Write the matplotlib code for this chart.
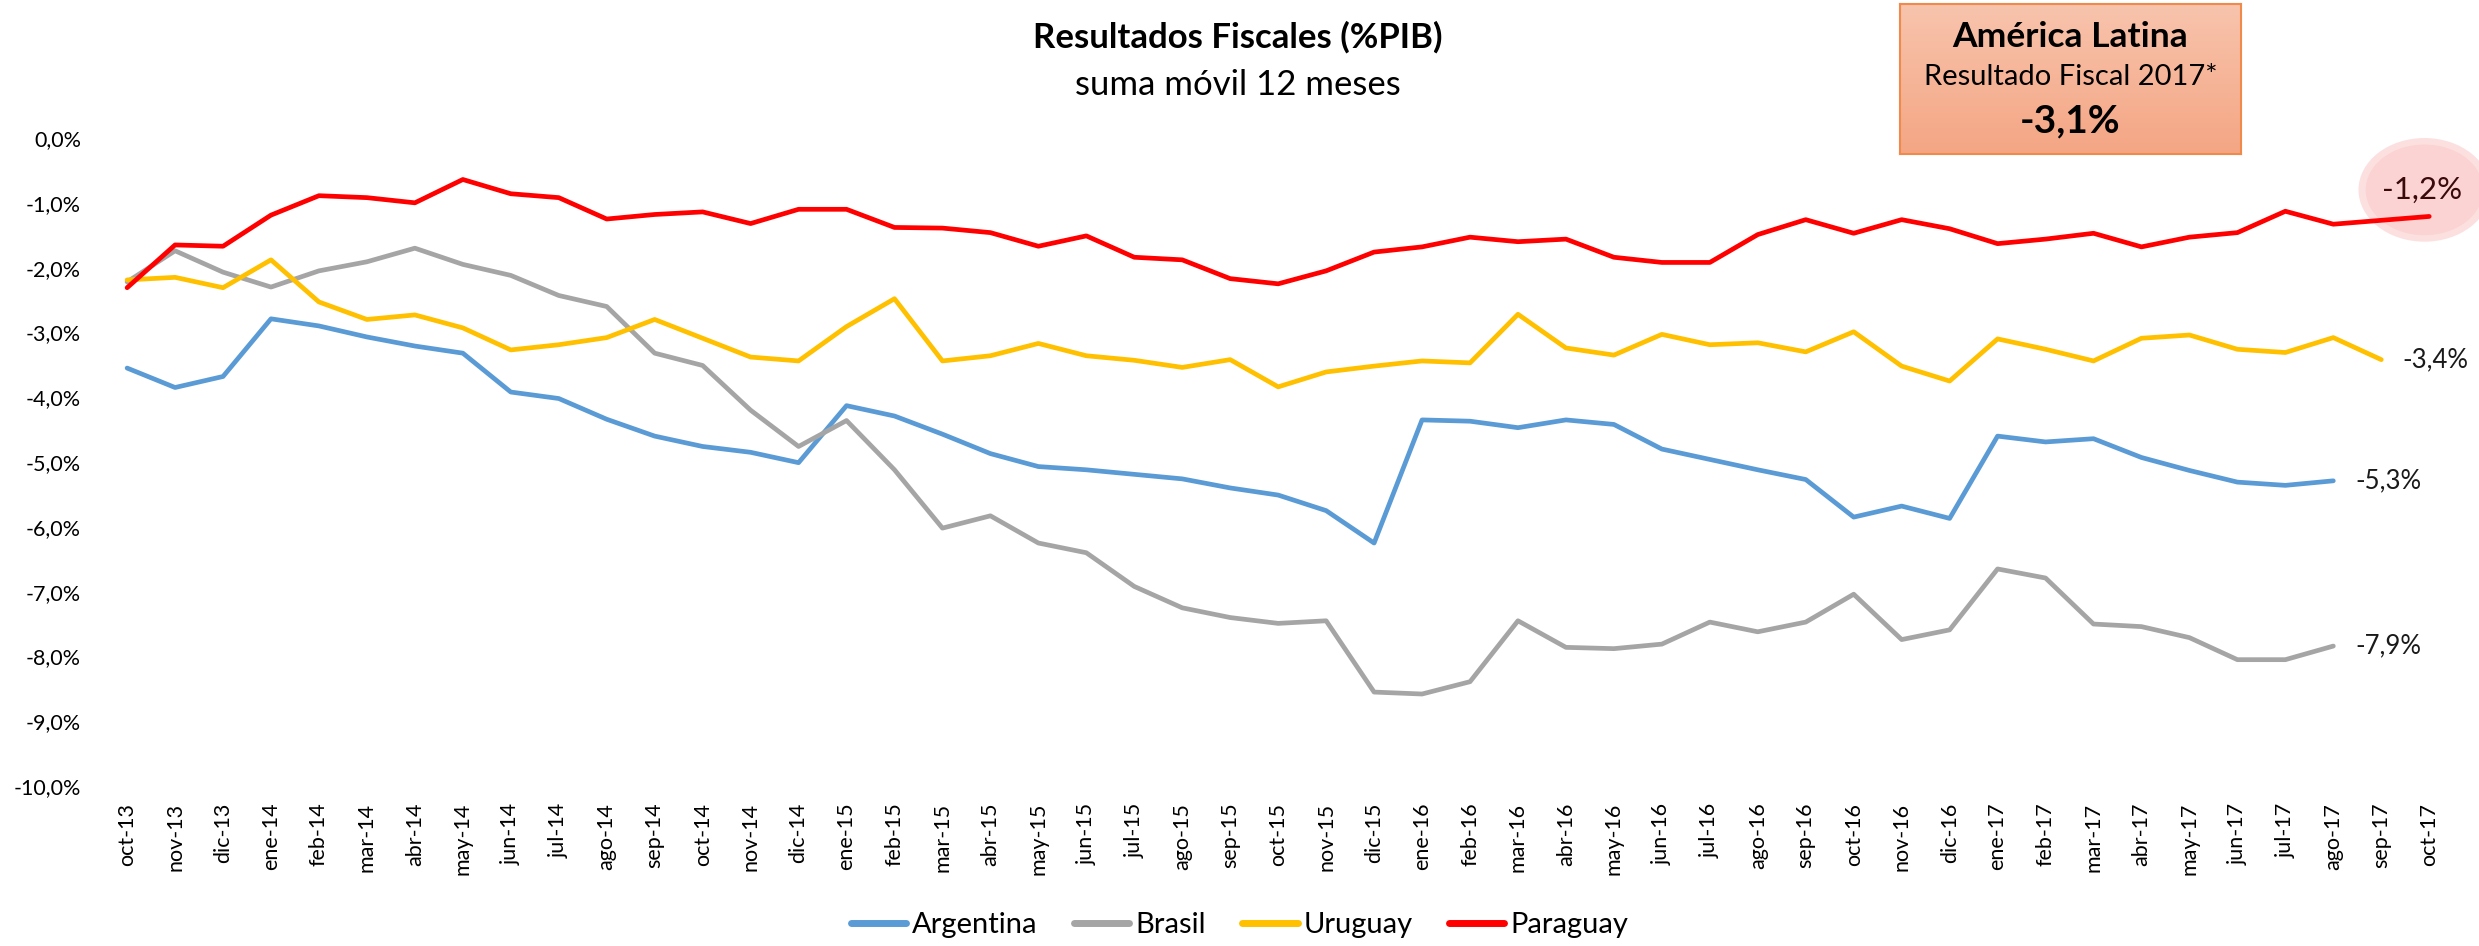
import numpy as np
import matplotlib
matplotlib.use("Agg")
import matplotlib.pyplot as plt
from matplotlib.patches import Ellipse

plt.rcParams['font.family'] = ['Lato', 'DejaVu Sans']

# datos (% del PIB, suma movil 12 meses)
meses = ['oct-13', 'nov-13', 'dic-13',
         'ene-14', 'feb-14', 'mar-14', 'abr-14', 'may-14', 'jun-14',
         'jul-14', 'ago-14', 'sep-14', 'oct-14', 'nov-14', 'dic-14',
         'ene-15', 'feb-15', 'mar-15', 'abr-15', 'may-15', 'jun-15',
         'jul-15', 'ago-15', 'sep-15', 'oct-15', 'nov-15', 'dic-15',
         'ene-16', 'feb-16', 'mar-16', 'abr-16', 'may-16', 'jun-16',
         'jul-16', 'ago-16', 'sep-16', 'oct-16', 'nov-16', 'dic-16',
         'ene-17', 'feb-17', 'mar-17', 'abr-17', 'may-17', 'jun-17',
         'jul-17', 'ago-17', 'sep-17', 'oct-17']

argentina = [-3.55, -3.85, -3.68, -2.79, -2.90, -3.07, -3.21, -3.32, -3.92, -4.02,
             -4.34, -4.60, -4.76, -4.85, -5.01, -4.13, -4.29, -4.57, -4.87, -5.07,
             -5.12, -5.19, -5.26, -5.40, -5.51, -5.75, -6.25, -4.35, -4.37, -4.47,
             -4.35, -4.42, -4.80, -4.96, -5.12, -5.27, -5.85, -5.68, -5.87, -4.60,
             -4.69, -4.64, -4.93, -5.13, -5.31, -5.36, -5.29]

brasil = [-2.22, -1.74, -2.07, -2.30, -2.05, -1.91, -1.70, -1.95, -2.12, -2.43,
          -2.60, -3.32, -3.51, -4.20, -4.76, -4.36, -5.12, -6.02, -5.83, -6.25,
          -6.40, -6.92, -7.25, -7.40, -7.49, -7.45, -8.55, -8.58, -8.39, -7.45,
          -7.86, -7.88, -7.81, -7.47, -7.62, -7.47, -7.04, -7.74, -7.59, -6.65,
          -6.79, -7.50, -7.54, -7.71, -8.05, -8.05, -7.84]

uruguay = [-2.19, -2.15, -2.31, -1.88, -2.53, -2.80, -2.73, -2.93, -3.27, -3.19,
           -3.08, -2.80, -3.09, -3.38, -3.44, -2.91, -2.48, -3.44, -3.36, -3.17,
           -3.36, -3.43, -3.54, -3.42, -3.84, -3.61, -3.52, -3.44, -3.47, -2.72,
           -3.24, -3.35, -3.03, -3.19, -3.16, -3.30, -2.99, -3.52, -3.75, -3.10,
           -3.26, -3.44, -3.09, -3.04, -3.26, -3.31, -3.08, -3.42]

paraguay = [-2.31, -1.65, -1.67, -1.19, -0.89, -0.92, -1.00, -0.64, -0.86, -0.92,
            -1.25, -1.18, -1.14, -1.32, -1.10, -1.10, -1.38, -1.39, -1.46, -1.67,
            -1.51, -1.84, -1.88, -2.17, -2.25, -2.05, -1.76, -1.68, -1.53, -1.60,
            -1.56, -1.84, -1.92, -1.92, -1.49, -1.26, -1.47, -1.26, -1.40, -1.63,
            -1.56, -1.47, -1.68, -1.53, -1.46, -1.13, -1.33, -1.27, -1.21]

series = [('Argentina', argentina, '#5B9BD5', '-5,3%'),
          ('Brasil', brasil, '#A5A5A5', '-7,9%'),
          ('Uruguay', uruguay, '#FFC000', '-3,4%'),
          ('Paraguay', paraguay, '#FF0000', '-1,2%')]

fig = plt.figure(figsize=(24.79, 9.46), dpi=100)
ax = fig.add_axes([0.0416, 0.1691, 0.948, 0.685])

for nombre, vals, color, etiqueta in series:
    x = np.arange(len(vals))
    ax.plot(x, vals, color=color, lw=3.4, label=nombre, solid_joinstyle='round',
            solid_capstyle='round', zorder=3)
    if nombre != 'Paraguay':
        ax.text(x[-1] + 0.45, vals[-1], etiqueta, ha='left', va='center',
                fontsize=18.5, color='#1a1a1a')

# etiqueta resaltada de Paraguay
ult = len(paraguay) - 1
ax.add_patch(Ellipse((ult - 0.1, -0.80), 2.75, 1.6, facecolor='#FCE0E0',
                     edgecolor='none', clip_on=False, zorder=1))
ax.add_patch(Ellipse((ult - 0.1, -0.80), 2.45, 1.4, facecolor='#FBD3D3',
                     edgecolor='none', clip_on=False, zorder=1))
ax.text(ult - 0.14, -0.80, '-1,2%', ha='center', va='center', fontsize=22.5,
        color='#3A0A0A', zorder=4)

ax.set_xlim(-0.5, 48.5)
ax.set_ylim(-10, 0)
ax.set_xticks(range(len(meses)))
ax.set_xticklabels(meses, rotation=90, fontsize=15.5)
yt = np.arange(-10, 1, 1)
ax.set_yticks(yt)
ax.set_yticklabels([('%.1f%%' % v).replace('.', ',') for v in yt], fontsize=15.5)
ax.tick_params(length=0)
ax.tick_params(axis='y', pad=16)
ax.tick_params(axis='x', pad=12)
for s in ax.spines.values():
    s.set_visible(False)

leg = ax.legend(loc='center', bbox_to_anchor=(0.5, 0.022), bbox_transform=fig.transFigure,
                ncol=4, frameon=False, fontsize=21, handlelength=1.9, handletextpad=0.2,
                columnspacing=1.25)
for l in leg.get_lines():
    l.set_linewidth(5)

# titulo
fig.text(0.4994, 0.961, 'Resultados Fiscales (%PIB)', ha='center', va='center',
         fontsize=25, fontweight='bold')
fig.text(0.4994, 0.910, 'suma móvil 12 meses', ha='center', va='center', fontsize=25)

# recuadro America Latina con degradado
bx = fig.add_axes([0.7664, 0.8372, 0.1376, 0.1586])
grad = np.linspace(0, 1, 100).reshape(-1, 1)
c1 = np.array([0xF8, 0xC4, 0xAD]) / 255
c2 = np.array([0xF4, 0xA6, 0x84]) / 255
img = c1[None, None, :] * (1 - grad[:, :, None]) + c2[None, None, :] * grad[:, :, None]
bx.imshow(img, aspect='auto', extent=[0, 1, 0, 1])
bx.set_xlim(0, 1)
bx.set_ylim(0, 1)
bx.set_xticks([])
bx.set_yticks([])
for s in bx.spines.values():
    s.set_color('#F08A4B')
    s.set_linewidth(1.5)
bx.text(0.5, 0.78, 'América Latina', ha='center', va='center', fontsize=25.5,
        fontweight='bold', transform=bx.transAxes)
bx.text(0.5, 0.51, 'Resultado Fiscal 2017*', ha='center', va='center', fontsize=21,
        transform=bx.transAxes)
bx.text(0.5, 0.22, '-3,1%', ha='center', va='center', fontsize=28,
        fontweight='bold', transform=bx.transAxes)

fig.savefig('out.png', dpi=100)
